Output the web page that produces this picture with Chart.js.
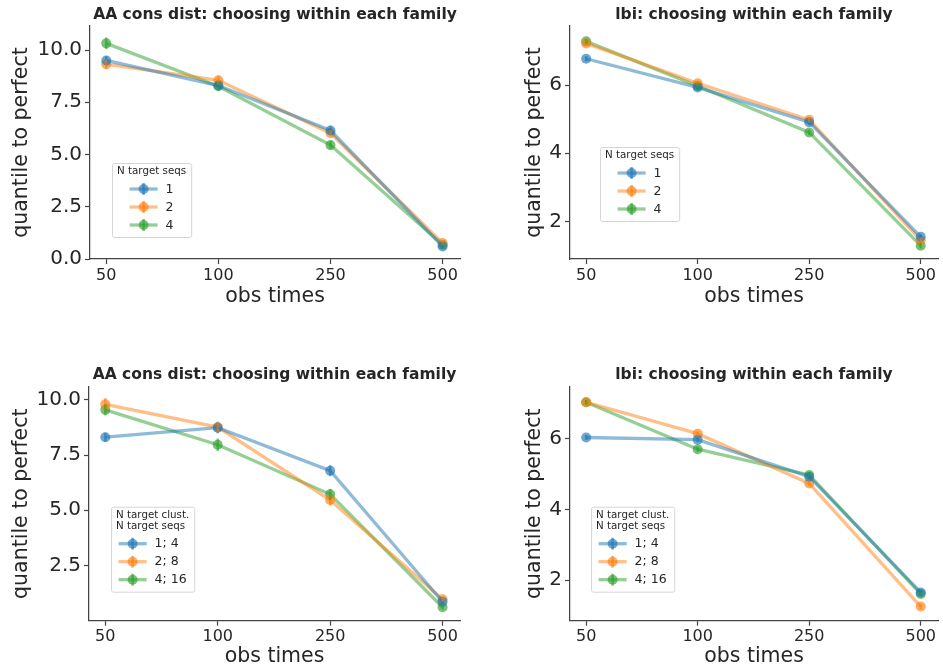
<!DOCTYPE html>
<html>
<head>
<meta charset="utf-8">
<script src="https://cdn.jsdelivr.net/npm/chart.js@4.4.0/dist/chart.umd.min.js"></script>
<style>
  body { margin: 0; background: #fff; }
  #fig { position: relative; width: 943px; height: 669px; }
  .panel { position: absolute; }
</style>
</head>
<body>
<div id="fig">
  <div class="panel" style="left:0;top:0"><canvas id="c1" width="470" height="330"></canvas></div>
  <div class="panel" style="left:470px;top:0"><canvas id="c2" width="473" height="330"></canvas></div>
  <div class="panel" style="left:0;top:330px"><canvas id="c3" width="470" height="339"></canvas></div>
  <div class="panel" style="left:470px;top:330px"><canvas id="c4" width="473" height="339"></canvas></div>
</div>
<script>
// --- data ---
const obsTimes = ['50', '100', '250', '500'];
const seqLabels = ['1', '2', '4'];
const clustLabels = ['1; 4', '2; 8', '4; 16'];

// AA cons dist, N target seqs
const aaSeq1 = [9.50, 8.30, 6.15, 0.60];
const aaSeq2 = [9.32, 8.55, 6.02, 0.76];
const aaSeq4 = [10.32, 8.27, 5.45, 0.68];
const aaSeqErr1 = [0.20, 0.15, 0.22, 0.10];
const aaSeqErr2 = [0.22, 0.22, 0.15, 0.10];
const aaSeqErr4 = [0.28, 0.20, 0.20, 0.10];

// lbi, N target seqs
const lbiSeq1 = [6.77, 5.93, 4.91, 1.55];
const lbiSeq2 = [7.22, 6.05, 4.98, 1.45];
const lbiSeq4 = [7.28, 5.97, 4.61, 1.29];
const lbiSeqErr1 = [0.08, 0.08, 0.08, 0.08];
const lbiSeqErr2 = [0.08, 0.08, 0.08, 0.08];
const lbiSeqErr4 = [0.08, 0.08, 0.08, 0.08];

// AA cons dist, N target clust. / seqs
const aaClu1 = [8.31, 8.74, 6.79, 0.85];
const aaClu2 = [9.80, 8.77, 5.46, 0.96];
const aaClu4 = [9.55, 7.97, 5.72, 0.60];
const aaCluErr1 = [0.20, 0.25, 0.25, 0.10];
const aaCluErr2 = [0.28, 0.25, 0.25, 0.10];
const aaCluErr4 = [0.25, 0.28, 0.25, 0.10];

// lbi, N target clust. / seqs
const lbiClu1 = [6.04, 5.98, 4.93, 1.65];
const lbiClu2 = [7.04, 6.15, 4.74, 1.25];
const lbiClu4 = [7.04, 5.71, 4.98, 1.61];
const lbiCluErr1 = [0.07, 0.07, 0.07, 0.07];
const lbiCluErr2 = [0.07, 0.07, 0.07, 0.07];
const lbiCluErr4 = [0.07, 0.07, 0.07, 0.07];

const aaTicks = [0, 2.5, 5, 7.5, 10];
const aaCluTicks = [2.5, 5, 7.5, 10];
const lbiTicks = [2, 4, 6];

const colors = [[31, 119, 180], [255, 127, 14], [44, 160, 44]];
const rgba = (c, a) => `rgba(${c[0]},${c[1]},${c[2]},${a})`;
const ink = '#262626';

Chart.defaults.font.family = "'DejaVu Sans', sans-serif";
Chart.defaults.color = ink;

// vertical error bars through the y scale
const errBars = {
  id: 'errBars',
  afterDatasetsDraw(chart) {
    const ctx = chart.ctx, ys = chart.scales.y;
    chart.data.datasets.forEach((ds, i) => {
      const meta = chart.getDatasetMeta(i);
      ctx.save();
      ctx.strokeStyle = rgba(colors[i], 0.6);
      ctx.lineWidth = 2.5;
      meta.data.forEach((pt, j) => {
        const v = ds.data[j].y, e = ds.err[j];
        ctx.beginPath();
        ctx.moveTo(pt.x, ys.getPixelForValue(v - e));
        ctx.lineTo(pt.x, ys.getPixelForValue(v + e));
        ctx.stroke();
      });
      ctx.restore();
    });
  }
};

// matplotlib-like legend box placed inside the axes
const boxLegend = {
  id: 'boxLegend',
  afterDraw(chart, args, o) {
    const ctx = chart.ctx, ca = chart.chartArea;
    const sets = chart.data.datasets;
    ctx.save();
    ctx.font = "10.3px 'DejaVu Sans'";
    const titleW = Math.max(...o.title.map(t => ctx.measureText(t).width));
    ctx.font = "12.5px 'DejaVu Sans'";
    const labW = Math.max(...sets.map(d => ctx.measureText(d.label).width));
    const entW = 28 + 8 + labW;
    const w = Math.max(titleW, entW) + 10;
    const n = o.title.length;
    const h = 3 + 11 * n + 12 + 36 + 12;
    const x0 = ca.left + o.x, y0 = ca.top + o.y;

    ctx.fillStyle = 'rgba(255,255,255,0.8)';
    ctx.strokeStyle = '#d6d6d6';
    ctx.lineWidth = 1;
    ctx.beginPath();
    ctx.roundRect(x0 + 0.5, y0 + 0.5, w, h, 2);
    ctx.fill();
    ctx.stroke();

    ctx.fillStyle = ink;
    ctx.textBaseline = 'middle';
    ctx.textAlign = 'left';
    ctx.font = "10.3px 'DejaVu Sans'";
    const tx = x0 + (w - titleW) / 2;
    o.title.forEach((t, k) => ctx.fillText(t, tx, y0 + 8.5 + 11 * k));

    ctx.font = "12.5px 'DejaVu Sans'";
    const ex = x0 + (w - entW) / 2;
    sets.forEach((d, i) => {
      const cy = y0 + 3 + 11 * n + 12 + 18 * i;
      ctx.strokeStyle = rgba(colors[i], 0.5);
      ctx.lineWidth = 3.3;
      ctx.beginPath();
      ctx.moveTo(ex, cy);
      ctx.lineTo(ex + 28, cy);
      ctx.stroke();
      ctx.strokeStyle = rgba(colors[i], 0.6);
      ctx.lineWidth = 2.5;
      ctx.beginPath();
      ctx.moveTo(ex + 14, cy - 6);
      ctx.lineTo(ex + 14, cy + 6);
      ctx.stroke();
      ctx.fillStyle = rgba(colors[i], 0.65);
      ctx.beginPath();
      ctx.arc(ex + 14, cy, 5, 0, Math.PI * 2);
      ctx.fill();
      ctx.fillStyle = ink;
      ctx.fillText(d.label, ex + 36, cy + 0.5);
    });
    ctx.restore();
  }
};

function makeChart(id, p) {
  const canvas = document.getElementById(id);
  const H = canvas.height;
  const datasets = p.series.map((s, i) => ({
    label: p.labels[i],
    data: s.map((v, j) => ({ x: j, y: v })),
    err: p.errs[i],
    borderColor: rgba(colors[i], 0.5),
    backgroundColor: rgba(colors[i], 0.65),
    borderWidth: 3.3,
    pointRadius: 5,
    pointHoverRadius: 5,
    pointBorderWidth: 0,
    tension: 0
  }));

  return new Chart(canvas, {
    type: 'line',
    data: { datasets },
    plugins: [errBars, boxLegend],
    options: {
      responsive: false,
      animation: false,
      layout: { padding: { left: 0, right: p.right, top: 0, bottom: 0 } },
      plugins: {
        legend: { display: false },
        tooltip: { enabled: false },
        title: {
          display: true,
          text: p.title,
          fullSize: false,
          color: ink,
          font: { size: 15.5, weight: 'bold' },
          padding: { top: p.titleTop, bottom: p.chartTop - p.titleTop - 18.6 }
        },
        boxLegend: p.legend
      },
      scales: {
        x: {
          type: 'linear',
          min: -0.145,
          max: 3.155,
          afterBuildTicks: s => { s.ticks = obsTimes.map((_, i) => ({ value: i })); },
          afterFit: s => { s.height = H - p.chartBottom; },
          ticks: {
            autoSkip: false,
            maxRotation: 0,
            padding: 2,
            color: ink,
            font: { size: 16 },
            callback: v => obsTimes[v]
          },
          grid: { drawOnChartArea: false, drawTicks: true, tickLength: 5, tickColor: '#444', tickWidth: 1.2 },
          border: { display: true, color: '#444', width: 1.25 },
          title: {
            display: true,
            text: 'obs times',
            color: ink,
            font: { size: 20.5 },
            padding: { top: 0, bottom: p.xTitlePad }
          }
        },
        y: {
          type: 'linear',
          min: p.yMin,
          max: p.yMax,
          afterBuildTicks: s => { s.ticks = p.yTicks.map(v => ({ value: v })); },
          afterFit: s => { s.width = p.chartLeft; },
          ticks: {
            padding: 3,
            color: ink,
            font: { size: 20 },
            callback: v => v.toFixed(p.dec)
          },
          grid: { drawOnChartArea: false, drawTicks: true, tickLength: 5, tickColor: '#444', tickWidth: 1.2 },
          border: { display: true, color: '#444', width: 1.25 },
          title: {
            display: true,
            text: 'quantile to perfect',
            color: ink,
            font: { size: 20.5 },
            padding: { top: p.yTitlePad, bottom: 0 }
          }
        }
      }
    }
  });
}

makeChart('c1', {
  title: 'AA cons dist: choosing within each family',
  series: [aaSeq1, aaSeq2, aaSeq4], errs: [aaSeqErr1, aaSeqErr2, aaSeqErr4],
  labels: seqLabels,
  yMin: 0, yMax: 11.15, yTicks: aaTicks, dec: 1,
  chartLeft: 90, right: 10, chartTop: 26, titleTop: 5.7, chartBottom: 259,
  xTitlePad: 20.7, yTitlePad: 9.4,
  legend: { x: 22, y: 137, title: ['N target seqs'] }
});

makeChart('c2', {
  title: 'lbi: choosing within each family',
  series: [lbiSeq1, lbiSeq2, lbiSeq4], errs: [lbiSeqErr1, lbiSeqErr2, lbiSeqErr4],
  labels: seqLabels,
  yMin: 0.90, yMax: 7.73, yTicks: lbiTicks, dec: 0,
  chartLeft: 100, right: 3, chartTop: 26, titleTop: 5.7, chartBottom: 259,
  xTitlePad: 20.7, yTitlePad: 52.7,
  legend: { x: 30, y: 121, title: ['N target seqs'] }
});

makeChart('c3', {
  title: 'AA cons dist: choosing within each family',
  series: [aaClu1, aaClu2, aaClu4], errs: [aaCluErr1, aaCluErr2, aaCluErr4],
  labels: clustLabels,
  yMin: -0.01, yMax: 10.6, yTicks: aaCluTicks, dec: 1,
  chartLeft: 89, right: 10, chartTop: 56.7, titleTop: 35.7, chartBottom: 290.7,
  xTitlePad: 0.5, yTitlePad: 9.4,
  legend: { x: 22, y: 120, title: ['N target clust.', 'N target seqs'] }
});

makeChart('c4', {
  title: 'lbi: choosing within each family',
  series: [lbiClu1, lbiClu2, lbiClu4], errs: [lbiCluErr1, lbiCluErr2, lbiCluErr4],
  labels: clustLabels,
  yMin: 0.85, yMax: 7.48, yTicks: lbiTicks, dec: 0,
  chartLeft: 100, right: 3, chartTop: 56.7, titleTop: 35.7, chartBottom: 290.7,
  xTitlePad: 0.5, yTitlePad: 52.7,
  legend: { x: 21, y: 120, title: ['N target clust.', 'N target seqs'] }
});
</script>
</body>
</html>
